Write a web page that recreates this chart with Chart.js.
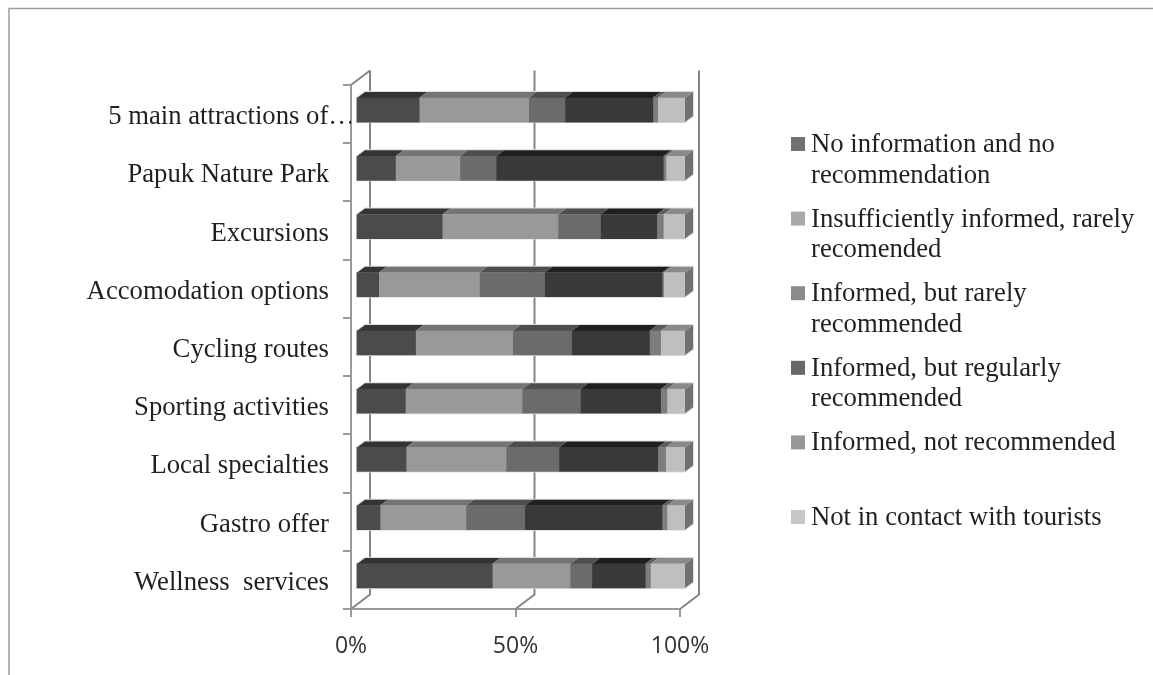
<!DOCTYPE html>
<html><head><meta charset="utf-8">
<style>html,body{margin:0;padding:0;background:#fff}canvas{display:block}</style>
<script src="https://cdn.jsdelivr.net/npm/chart.js@4"></script>
</head><body><canvas id="c" width="1153" height="675"></canvas>
<script>
const categories=["5 main attractions of…","Papuk Nature Park","Excursions","Accomodation options","Cycling routes","Sporting activities","Local specialties","Gastro offer","Wellness  services"];
const noInformation=[19.2,12,26.2,6.9,18.1,15,15.2,7.3,41.4];
const insufficientlyInformed=[33.3,19.6,35.2,30.6,29.5,35.5,30.4,26.1,23.7];
const informedRarely=[11,11,12.9,19.8,17.9,17.7,16.1,17.9,6.6];
const informedRegularly=[26.7,50.8,17.1,35.7,23.7,24.4,30,41.7,16.2];
const informedNot=[1.5,0.8,2,0.5,3.4,1.9,2.4,1.5,1.6];
const notInContact=[8.3,5.8,6.6,6.5,7.4,5.5,5.9,5.5,10.5];
const seriesNames=["No information and no recommendation","Insufficiently informed, rarely recomended","Informed, but rarely recommended","Informed, but regularly recommended","Informed, not recommended","Not in contact with tourists"];
const legendLines=[["No information and no","recommendation"],["Insufficiently informed, rarely","recomended"],["Informed, but rarely","recommended"],["Informed, but regularly","recommended"],["Informed, not recommended"],["Not in contact with tourists"]];
const frontColors=["#4a4c4b","#999999","#6b6b6b","#393939","#7d7d7d","#bfbfbd"];
const topColors=["#333534","#747474","#4e4e4e","#1f1f1f","#5c5c5c","#8a8a8a"];
const legendColors=["#717173","#a9a9ab","#8b8b8d","#68686a","#98989a","#c6c6c8"];
const sideColor="#707070", haloColor="#dedede";
const axisColor="#9a9a9a", wallColor="#858585", textColor="#231f20";
const serif='"Liberation Serif"';
const WALL_DX=19, WALL_DY=14.5, BAR_DX=5, BAR_DY=-4, DEPTH_X=8, DEPTH_Y=6, CLIPPED_LABEL_SHIFT=26;

const frame={id:'frame',beforeDraw(ch){const c=ch.ctx;c.save();c.strokeStyle='#9c9c9c';c.lineWidth=1.5;
  c.beginPath();c.moveTo(9,675);c.lineTo(9,8.5);c.lineTo(1153,8.5);c.stroke();c.restore();
  const items=ch.scales.y.getLabelItems();
  if(items[0]&&!ch.$shifted){items[0].options.translation[0]+=CLIPPED_LABEL_SHIFT;ch.$shifted=true;}
}};

const walls={id:'walls',beforeDatasetsDraw(ch){
  const c=ch.ctx,x=ch.scales.x,a=ch.chartArea;
  c.save();c.lineWidth=2;c.strokeStyle=wallColor;
  x.ticks.forEach(t=>{const px=x.getPixelForValue(t.value);
    c.beginPath();c.moveTo(px,a.bottom);c.lineTo(px+WALL_DX,a.bottom-WALL_DY);c.lineTo(px+WALL_DX,a.top-WALL_DY);c.stroke();});
  const x0=x.getPixelForValue(0);
  c.beginPath();c.moveTo(x0,a.top);c.lineTo(x0+WALL_DX,a.top-WALL_DY);c.stroke();
  c.restore();
  c.save();c.translate(BAR_DX,BAR_DY);
  const n=ch.data.datasets.length;
  const firstBars=ch.getDatasetMeta(0).data,lastBars=ch.getDatasetMeta(n-1).data;
  c.strokeStyle=haloColor;c.lineWidth=2;
  firstBars.forEach((f,j)=>{const l=lastBars[j],t=f.y-f.height/2,bt=f.y+f.height/2;
    c.beginPath();c.moveTo(f.base,bt);c.lineTo(f.base,t);c.lineTo(f.base+DEPTH_X,t-DEPTH_Y);c.lineTo(l.x+DEPTH_X,t-DEPTH_Y);c.lineTo(l.x+DEPTH_X,bt-DEPTH_Y);c.lineTo(l.x,bt);c.closePath();c.stroke();});
  ch.data.datasets.forEach((d,i)=>{
    ch.getDatasetMeta(i).data.forEach(b=>{
      const t=b.y-b.height/2,bt=b.y+b.height/2;
      c.fillStyle=topColors[i];
      c.beginPath();c.moveTo(b.base,t);c.lineTo(b.x,t);c.lineTo(b.x+DEPTH_X,t-DEPTH_Y);c.lineTo(b.base+DEPTH_X,t-DEPTH_Y);c.closePath();c.fill();
      if(i===n-1){c.fillStyle=sideColor;
        c.beginPath();c.moveTo(b.x,t);c.lineTo(b.x+DEPTH_X,t-DEPTH_Y);c.lineTo(b.x+DEPTH_X,bt-DEPTH_Y);c.lineTo(b.x,bt);c.closePath();c.fill();}
    });
  });
  c.restore();
  c.save();c.translate(BAR_DX,BAR_DY);
},
afterDatasetsDraw(ch){ch.ctx.restore();}};

const legendBox={id:'legendBox',afterDraw(ch){
  const c=ch.ctx;c.save();c.textBaseline='middle';c.textAlign='left';c.font='26.7px '+serif;
  legendLines.forEach((lines,i)=>{const y=144+i*74.6;
    c.fillStyle=legendColors[i];c.fillRect(791,y-7,14,14);
    c.fillStyle=textColor;
    lines.forEach((s,k)=>c.fillText(s,811,y+1+k*30.5));});
  c.restore();}};

new Chart(document.getElementById('c'),{type:'bar',
 data:{labels:categories,datasets:[noInformation,insufficientlyInformed,informedRarely,informedRegularly,informedNot,notInContact].map((v,i)=>({label:seriesNames[i],data:v,backgroundColor:frontColors[i],barThickness:24}))},
 options:{indexAxis:'y',responsive:false,animation:false,
  layout:{padding:{left:0,top:85,right:473,bottom:0}},
  plugins:{legend:{display:false},tooltip:{enabled:false}},
  scales:{
   x:{stacked:true,min:0,max:100,afterFit(s){s.height=66;},
      ticks:{stepSize:50,callback:v=>v+'%',color:'#333',padding:16,maxRotation:0,font:{family:'"Open Sans"',size:23}},
      grid:{drawOnChartArea:false,drawTicks:true,tickLength:8,color:axisColor,lineWidth:2},border:{color:axisColor,width:2}},
   y:{stacked:true,afterFit(s){s.width=351;},
      ticks:{color:textColor,padding:14,autoSkip:false,labelOffset:3,font:{family:serif,size:26.7}},
      grid:{drawOnChartArea:false,drawTicks:true,tickLength:8,color:axisColor,lineWidth:2},border:{color:axisColor,width:2}}
  }},
 plugins:[frame,walls,legendBox]});
</script></body></html>
